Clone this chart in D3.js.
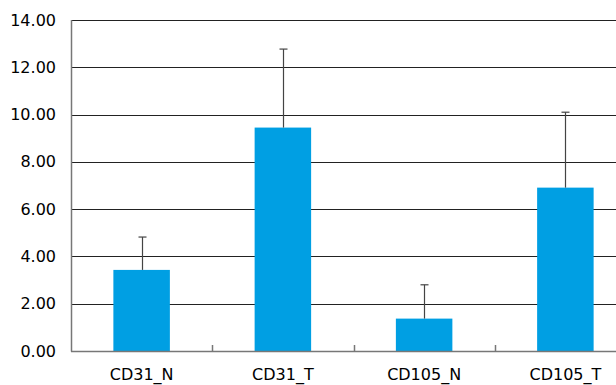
<!DOCTYPE html>
<html>
<head>
<meta charset="utf-8">
<script src="https://cdn.jsdelivr.net/npm/d3@7"></script>
<style>
html,body{margin:0;padding:0;background:#fff;overflow:hidden;}
svg{display:block;}
text{font-family:"DejaVu Sans",Verdana,sans-serif;fill:#000;}
</style>
</head>
<body>
<svg id="chart" width="616" height="385"></svg>
<script>
const categories = ["CD31_N", "CD31_T", "CD105_N", "CD105_T"];
const means = [3.43, 9.45, 1.37, 6.91];
const errors = [1.39, 3.32, 1.43, 3.19];
const yTicks = [0, 2, 4, 6, 8, 10, 12, 14];

const svg = d3.select("#chart");
const plotLeft = 71, plotTop = 20, plotBottom = 351, plotRight = 636;

const x = d3.scaleBand().domain(categories).range([plotLeft, plotRight]).paddingInner(0).paddingOuter(0);
const y = d3.scaleLinear().domain([0, 14]).range([plotBottom, plotTop]);

// gridlines
svg.append("g").selectAll("line").data(yTicks.filter(d => d > 0)).join("line")
  .attr("x1", plotLeft).attr("x2", plotRight)
  .attr("y1", d => Math.round(y(d)) + 0.5).attr("y2", d => Math.round(y(d)) + 0.5)
  .attr("stroke", "#222").attr("stroke-width", 1);

// y labels
svg.append("g").selectAll("text").data(yTicks).join("text")
  .attr("x", 56).attr("y", d => y(d))
  .attr("text-anchor", "end").attr("dominant-baseline", "central")
  .style("font-size", "16px")
  .text(d => d3.format(".2f")(d));

// bars
const bw = x.bandwidth() * 0.4;
svg.append("g").selectAll("rect").data(categories).join("rect")
  .attr("x", (d) => x(d) + x.bandwidth() / 2 - bw / 2)
  .attr("width", bw)
  .attr("y", (d, i) => y(means[i]))
  .attr("height", (d, i) => y(0) - y(means[i]))
  .attr("fill", "#009FE3");

// error bars (upper only)
const eb = svg.append("g").attr("stroke", "#444").attr("stroke-width", 1.2);
categories.forEach((c, i) => {
  const cx = Math.round(x(c) + x.bandwidth() / 2) + 0.5;
  eb.append("line").attr("x1", cx).attr("x2", cx)
    .attr("y1", y(means[i])).attr("y2", y(means[i] + errors[i]));
  eb.append("line").attr("x1", cx - 4).attr("x2", cx + 4)
    .attr("y1", y(means[i] + errors[i])).attr("y2", y(means[i] + errors[i]));
});

// axes
const axisColor = "#777";
svg.append("line").attr("x1", plotLeft + 0.5).attr("x2", plotLeft + 0.5)
  .attr("y1", y(14)).attr("y2", plotBottom + 0.5)
  .attr("stroke", axisColor).attr("stroke-width", 1.5);
svg.append("line").attr("x1", plotLeft).attr("x2", plotRight)
  .attr("y1", plotBottom + 0.5).attr("y2", plotBottom + 0.5)
  .attr("stroke", axisColor).attr("stroke-width", 1.5);

// category boundary ticks (inward)
svg.append("g").selectAll("line").data(categories.slice(1)).join("line")
  .attr("x1", d => Math.round(x(d)) + 0.5).attr("x2", d => Math.round(x(d)) + 0.5)
  .attr("y1", plotBottom - 6).attr("y2", plotBottom)
  .attr("stroke", axisColor).attr("stroke-width", 1.5);

// x labels
svg.append("g").selectAll("text").data(categories).join("text")
  .attr("x", d => x(d) + x.bandwidth() / 2)
  .attr("y", 380)
  .attr("text-anchor", "middle")
  .style("font-size", "16px")
  .text(d => d);
</script>
</body>
</html>
